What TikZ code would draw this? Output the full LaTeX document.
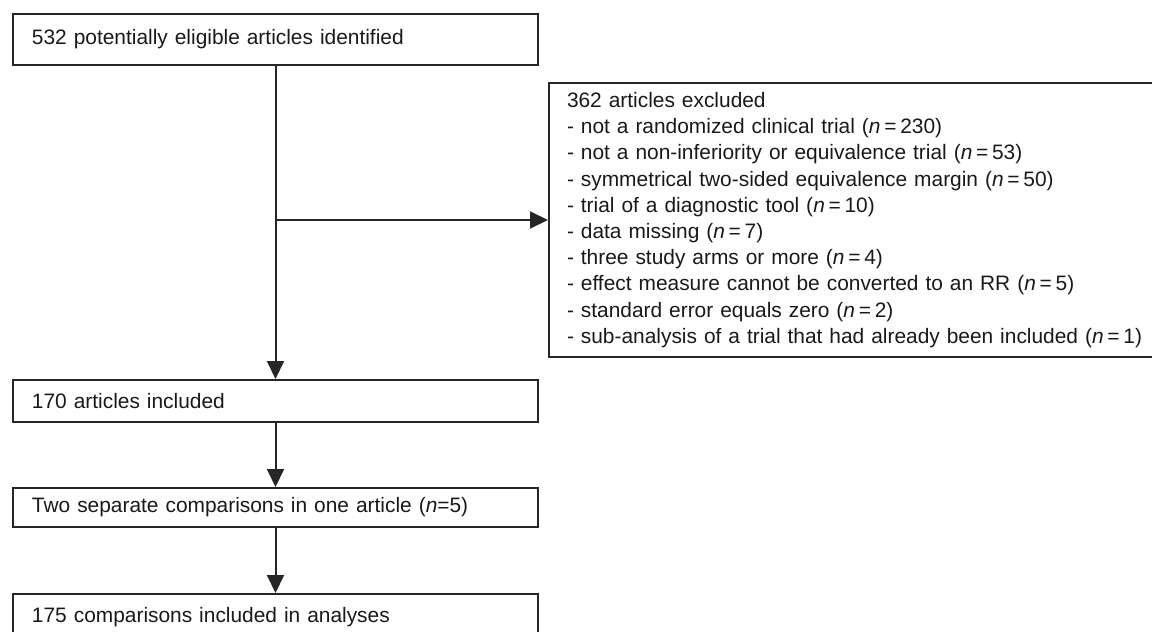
\documentclass[tikz,border=0pt]{standalone}
\usepackage{fontspec}
\setmainfont{Liberation Sans}
\usepackage{tikz}
\usetikzlibrary{arrows.meta}
\tikzstyle{flowbox}=[draw=black!85, line width=1pt, rectangle, anchor=north west, align=left, inner xsep=9.5pt, text width=243.5pt, font=\fontsize{10.45}{13.1}\selectfont, text=black!90]
\tikzstyle{flowarrow}=[draw=black!85, line width=1pt, -{Triangle[length=9pt,width=8.5pt]}]
\newcommand{\nn}[1]{(\textit{n}\hspace{0.18em}=\hspace{0.18em}#1)}

\begin{document}
\begin{tikzpicture}[x=0.5pt, y=-0.5pt]
	\path[use as bounding box, clip] (0,0) rectangle (1152,632);
%
	\node[flowbox, minimum height=25.5pt] (ident) at (12,13) {532 potentially eligible articles identified};
	\node[flowbox, minimum height=21pt] (incl) at (12,379) {170 articles included};
	\node[flowbox, minimum height=19.5pt] (split) at (12,487) {Two separate comparisons in one article (\textit{n}=5)};
	\node[flowbox, minimum height=23pt] (anal) at (12,593) {175 comparisons included in analyses};
%
	\node[flowbox, text width=300pt, inner xsep=9pt, minimum height=137pt] (excl) at (548,82) {362 articles excluded\\
		- not a randomized clinical trial \nn{230}\\
		- not a non-inferiority or equivalence trial \nn{53}\\
		- symmetrical two-sided equivalence margin \nn{50}\\
		- trial of a diagnostic tool \nn{10}\\
		- data missing \nn{7}\\
		- three study arms or more \nn{4}\\
		- effect measure cannot be converted to an RR \nn{5}\\
		- standard error equals zero \nn{2}\\
		- sub-analysis of a trial that had already been included \nn{1}};
%
	\coordinate (branch) at (ident.south |- excl.west);
	\draw[flowarrow] (ident.south) -- (incl.north);
	\draw[flowarrow] (branch) -- (excl.west);
	\draw[flowarrow] (incl.south) -- (split.north);
	\draw[flowarrow] (split.south) -- (anal.north);
\end{tikzpicture}
\end{document}
